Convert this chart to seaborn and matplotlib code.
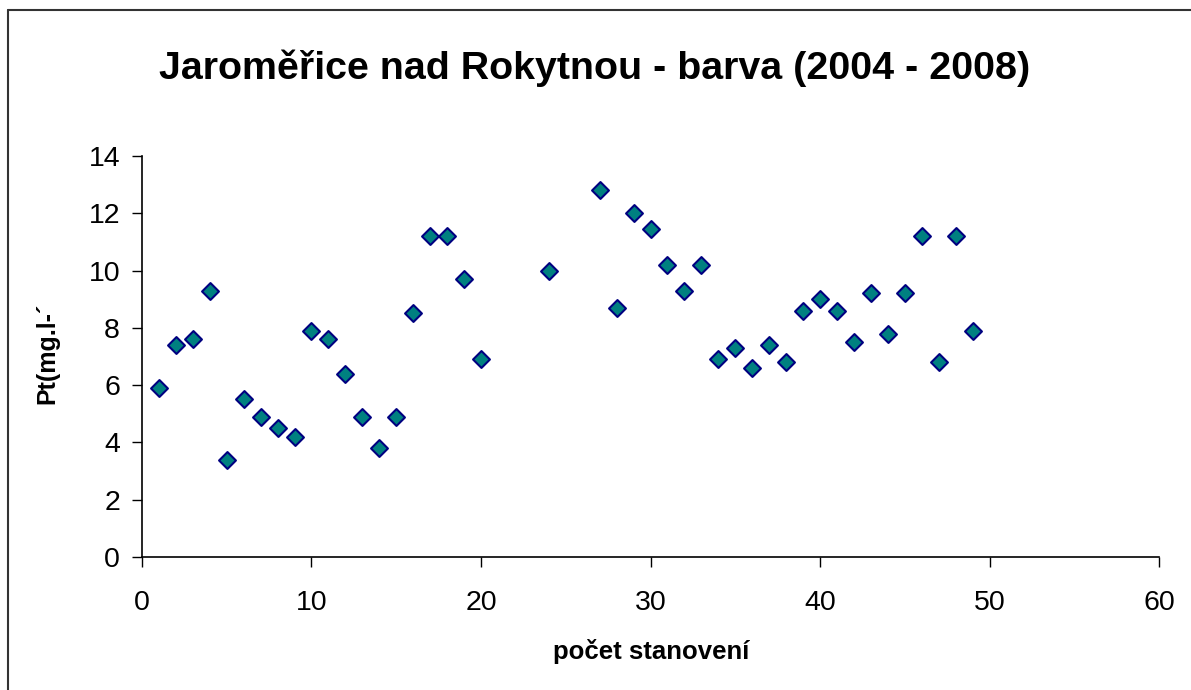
import matplotlib
matplotlib.use("Agg")
import matplotlib.pyplot as plt
import pandas as pd
import seaborn as sns
from matplotlib.lines import Line2D

# measurement index and colour value (Pt)
stanoveni = [1, 2, 3, 4, 5, 6, 7, 8, 9, 10,
             11, 12, 13, 14, 15, 16, 17, 18, 19, 20,
             24, 27, 28, 29, 30, 31, 32, 33, 34, 35,
             36, 37, 38, 39, 40, 41, 42, 43, 44, 45,
             46, 47, 48, 49]
barva = [5.9, 7.4, 7.6, 9.3, 3.4, 5.5, 4.9, 4.5, 4.2, 7.9,
         7.6, 6.4, 4.9, 3.8, 4.9, 8.5, 11.2, 11.2, 9.7, 6.9,
         10.0, 12.8, 8.7, 12.0, 11.45, 10.2, 9.3, 10.2, 6.9, 7.3,
         6.6, 7.4, 6.8, 8.6, 9.0, 8.6, 7.5, 9.2, 7.8, 9.2,
         11.2, 6.8, 11.2, 7.9]
x_ticks = [0, 10, 20, 30, 40, 50, 60]
y_ticks = [0, 2, 4, 6, 8, 10, 12, 14]

df = pd.DataFrame({"stanoveni": stanoveni, "barva": barva})

sns.set_theme(style="white")
plt.rcParams["font.family"] = ["Liberation Sans", "DejaVu Sans"]
plt.rcParams["text.color"] = "black"

fig = plt.figure(figsize=(11.91, 6.90), dpi=100)
ax = fig.add_axes([0.1192, 0.1928, 0.854, 0.5812])

sns.scatterplot(data=df, x="stanoveni", y="barva", marker="D", s=74,
                color="#008080", edgecolor="#000080", linewidth=1.5,
                ax=ax, zorder=3, clip_on=False)

ax.set_xlim(0, 60)
ax.set_ylim(0, 14)
ax.set_xticks(x_ticks)
ax.set_yticks(y_ticks)
ax.tick_params(axis="both", direction="out", length=7.2, width=1, color="black",
               labelsize=20.5, labelcolor="black", bottom=True, left=True)
ax.tick_params(axis="x", pad=16.5)
ax.tick_params(axis="y", pad=8.6)
for side in ["top", "right"]:
    ax.spines[side].set_visible(False)
for side in ["left", "bottom"]:
    ax.spines[side].set_color("black")
    ax.spines[side].set_linewidth(1.2)
ax.set_xlabel("")
ax.set_ylabel("")

fig.text(0.4996, 0.9014, "Jaroměřice nad Rokytnou - barva (2004 - 2008)",
         ha="center", va="center", fontsize=28.4, fontweight="bold", color="black")
fig.text(0.5466, 0.0565, "počet stanovení", ha="center", va="center",
         fontsize=18.5, fontweight="bold", color="black")
fig.text(0.040, 0.4884, "Pt(mg.l-´", ha="center", va="center", rotation=90,
         fontsize=18, fontweight="bold", color="black")

# chart area border (cut off at right and bottom like the source)
fig.add_artist(Line2D([8 / 1191, 1.0], [1 - 10 / 690, 1 - 10 / 690],
                      color="#333333", linewidth=1.5, transform=fig.transFigure))
fig.add_artist(Line2D([8 / 1191, 8 / 1191], [0.0, 1 - 10 / 690],
                      color="#333333", linewidth=1.5, transform=fig.transFigure))

fig.savefig("out.png", dpi=100)
